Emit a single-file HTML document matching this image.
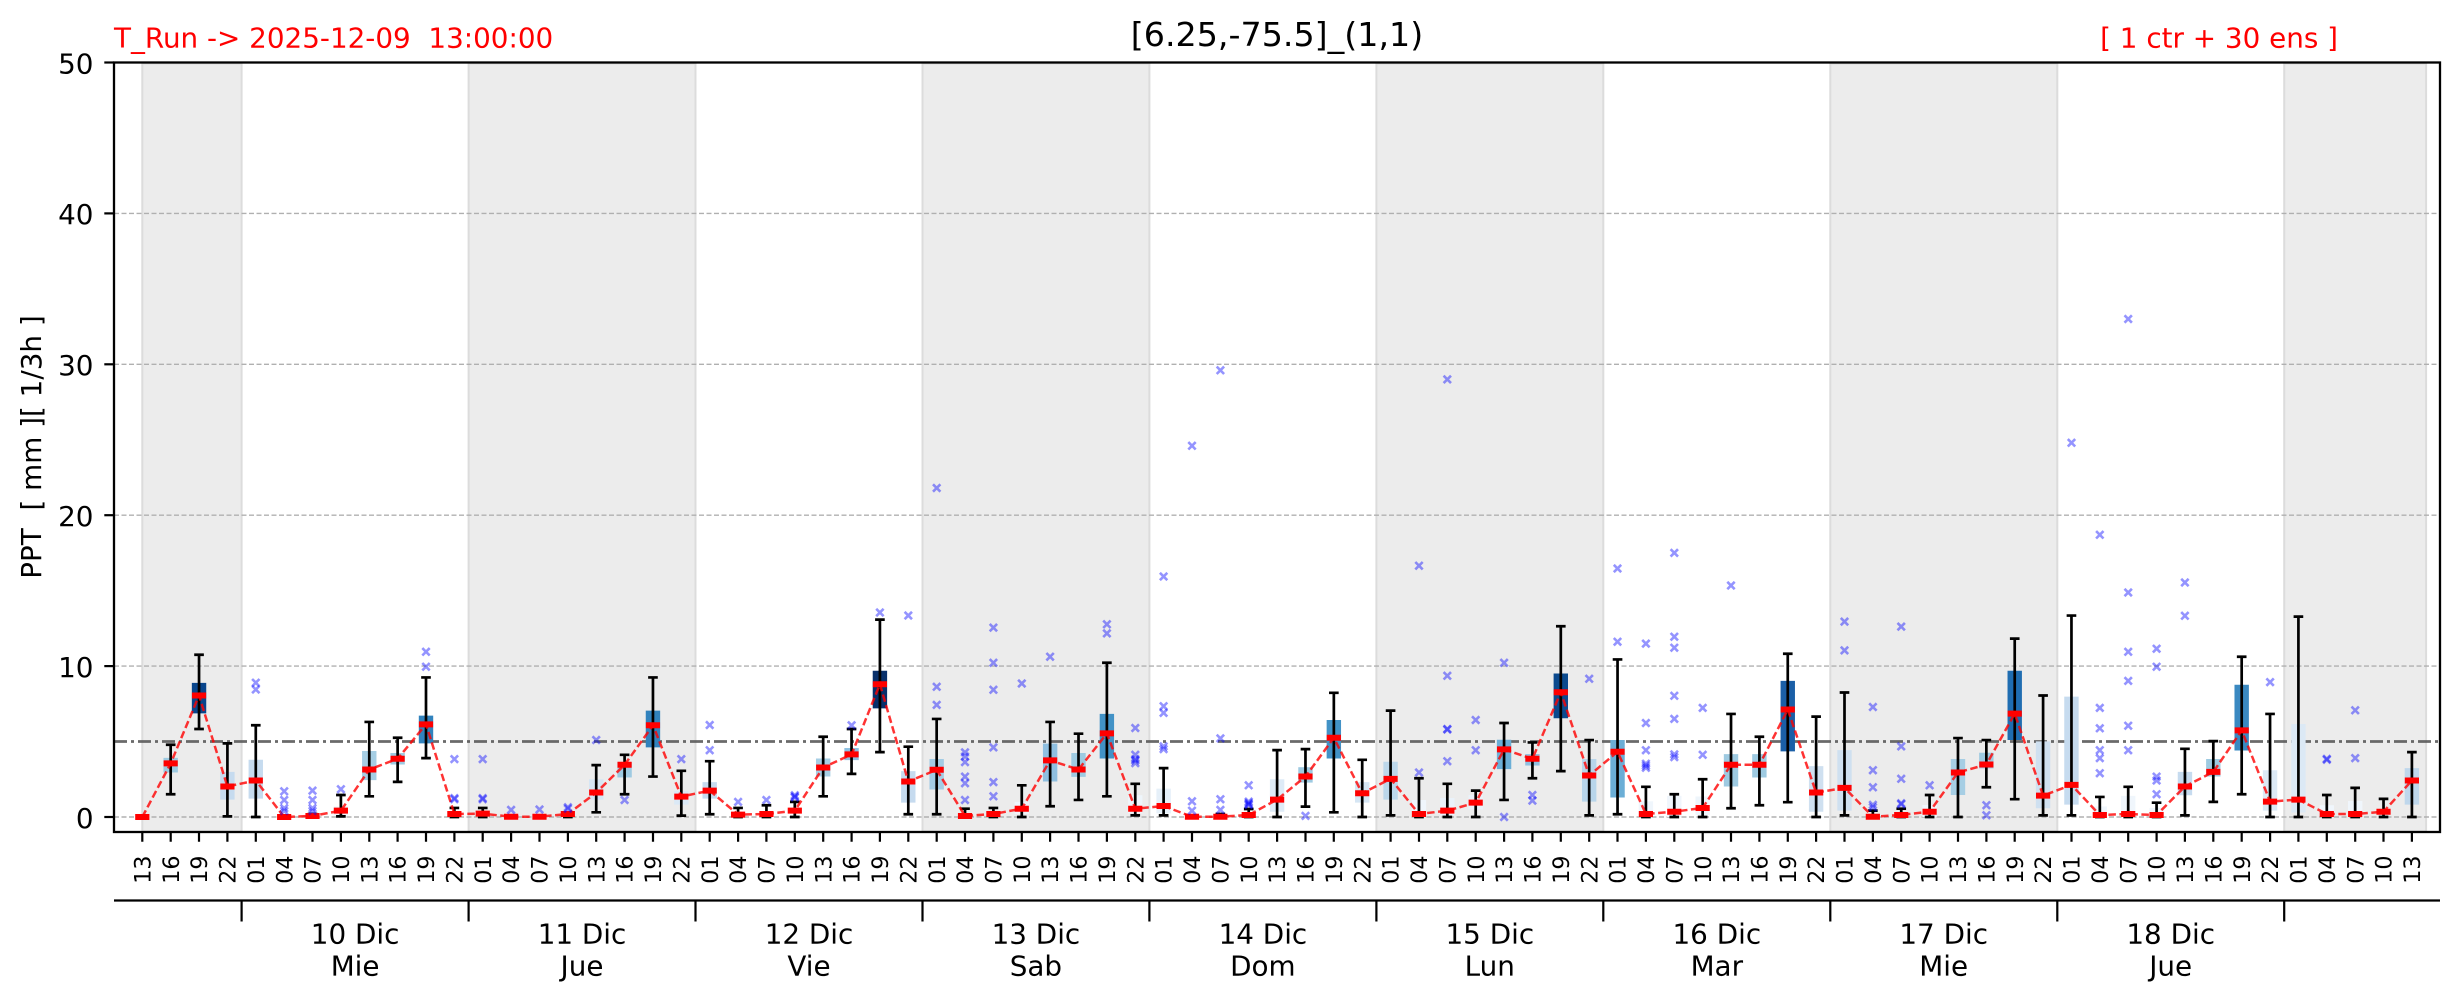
<!DOCTYPE html>
<html>
<head>
<meta charset="utf-8">
<style>
html,body{margin:0;padding:0;background:#fff;}
body{width:2459px;height:1001px;overflow:hidden;}
svg{display:block;}
text{font-family:"DejaVu Sans","Liberation Sans",sans-serif;}
.ns{vector-effect:non-scaling-stroke;}
.bx path{vector-effect:non-scaling-stroke;stroke-width:14.4;fill:none;stroke-linecap:butt;}
.hl text{font-size:22.2px;fill:#000;}
</style>
</head>
<body>
<svg width="2459" height="1001" viewBox="0 0 2459 1001" xmlns="http://www.w3.org/2000/svg">
<defs>
<path id="xm" d="M-3.7-3.7L3.7 3.7M-3.7 3.7L3.7-3.7" stroke="#0000ff" stroke-opacity=".42" stroke-width="2.6" fill="none"/>
</defs>

<!-- day bands -->
<g fill="#ececec" stroke="#dcdcdc" stroke-width="2">
<rect x="142.3" y="63.5" width="99.3" height="768"/>
<rect x="468.6" y="63.5" width="226.9" height="768"/>
<rect x="922.5" y="63.5" width="226.9" height="768"/>
<rect x="1376.4" y="63.5" width="226.9" height="768"/>
<rect x="1830.3" y="63.5" width="227" height="768"/>
<rect x="2284.2" y="63.5" width="141.9" height="768"/>
</g>

<!-- grid -->
<g stroke="#b0b0b0" stroke-width="1.4" stroke-dasharray="5 2.5">
<line x1="114" y1="817" x2="2440" y2="817"/>
<line x1="114" y1="666.1" x2="2440" y2="666.1"/>
<line x1="114" y1="515.2" x2="2440" y2="515.2"/>
<line x1="114" y1="364.3" x2="2440" y2="364.3"/>
<line x1="114" y1="213.4" x2="2440" y2="213.4"/>
</g>

<!-- threshold -->
<line x1="114" y1="741.5" x2="2440" y2="741.5" stroke="#5a5a5a" stroke-width="2.8" stroke-dasharray="13 4 3 4" opacity=".9"/>

<!-- data-coordinate group -->
<g transform="translate(142.3 817) scale(28.37 -15.09)">
<g class="bx">
<path d="M1 2.95V3.92" stroke="#9ecae1"/>
<path d="M2 6.87V8.89" stroke="#08458c"/>
<path d="M3 1.15V2.99" stroke="#c6dbef"/>
<path d="M4 1.22V3.79" stroke="#c6dbef"/>
<path d="M7 0.1V0.7" stroke="#eef5fb"/>
<path d="M8 2.44V4.37" stroke="#a6cee4"/>
<path d="M9 3.48V4.24" stroke="#9ecae1"/>
<path d="M10 4.88V6.72" stroke="#3182bd"/>
<path d="M16 1.15V2.5" stroke="#d6e6f4"/>
<path d="M17 2.62V3.64" stroke="#9ecae1"/>
<path d="M18 4.61V7.05" stroke="#3182bd"/>
<path d="M19 0.82V1.73" stroke="#dbe9f6"/>
<path d="M20 1.22V2.31" stroke="#c6dbef"/>
<path d="M24 2.68V3.88" stroke="#a6cee4"/>
<path d="M25 3.77V4.57" stroke="#8dbfe0"/>
<path d="M26 7.2V9.69" stroke="#08306b"/>
<path d="M27 0.95V3.04" stroke="#c6dbef"/>
<path d="M28 1.82V3.84" stroke="#a3cce4"/>
<path d="M31 0.2V1.0" stroke="#eef5fb"/>
<path d="M32 2.35V4.86" stroke="#8fbfe0"/>
<path d="M33 2.66V4.24" stroke="#9ecae1"/>
<path d="M34 3.88V6.83" stroke="#4292c6"/>
<path d="M35 0.24V1.44" stroke="#eef5fb"/>
<path d="M36 0.24V1.88" stroke="#e6f0f9"/>
<path d="M40 0.35V2.5" stroke="#deebf7"/>
<path d="M41 2.28V3.3" stroke="#9ecae1"/>
<path d="M42 3.88V6.43" stroke="#4292c6"/>
<path d="M43 0.95V2.31" stroke="#d6e6f4"/>
<path d="M44 1.15V3.66" stroke="#bcd7ea"/>
<path d="M45 0V1.13" stroke="#f0f6fc"/>
<path d="M46 0.1V1.26" stroke="#eaf2fa"/>
<path d="M47 0.5V1.46" stroke="#eaf2fa"/>
<path d="M48 3.17V5.12" stroke="#6baed6"/>
<path d="M49 3.41V4.17" stroke="#8fc0e0"/>
<path d="M50 6.54V9.51" stroke="#0b4a8e"/>
<path d="M51 1.02V3.84" stroke="#b8d5ea"/>
<path d="M52 1.29V5.1" stroke="#6baed6"/>
<path d="M53 0V1.04" stroke="#f0f6fc"/>
<path d="M54 0V1.4" stroke="#f0f6fc"/>
<path d="M55 0.13V1.36" stroke="#eef5fb"/>
<path d="M56 2.02V4.17" stroke="#9ecae1"/>
<path d="M57 2.62V4.17" stroke="#9ecae1"/>
<path d="M58 4.35V9.02" stroke="#1b5fa7"/>
<path d="M59 0.35V3.37" stroke="#cfe0f0"/>
<path d="M60 0.42V4.43" stroke="#cfe0f0"/>
<path d="M63 0V0.8" stroke="#f0f6fc"/>
<path d="M64 1.46V3.84" stroke="#a6cee4"/>
<path d="M65 3.22V4.26" stroke="#9ecae1"/>
<path d="M66 5.1V9.69" stroke="#1f6db1"/>
<path d="M67 0.58V5.01" stroke="#cfe0f0"/>
<path d="M68 0.82V7.98" stroke="#c6dbef"/>
<path d="M69 0V0.7" stroke="#f0f6fc"/>
<path d="M70 0V1.4" stroke="#f0f6fc"/>
<path d="M71 0V0.6" stroke="#f0f6fc"/>
<path d="M72 1.44V2.99" stroke="#c6dbef"/>
<path d="M73 2.68V3.84" stroke="#9ecae1"/>
<path d="M74 4.41V8.76" stroke="#3a89c1"/>
<path d="M75 0.42V3.1" stroke="#dce9f5"/>
<path d="M76 0.3V6.16" stroke="#dce9f5"/>
<path d="M77 0V0.78" stroke="#f0f6fc"/>
<path d="M78 0V1.06" stroke="#f0f6fc"/>
<path d="M80 0.82V3.24" stroke="#bfd7ec"/>
</g>

<!-- whiskers -->
<path class="ns" fill="none" stroke="#000" stroke-width="2.7" d="
M1 1.51m-.17 0h.34m-.17 0V4.79m-.17 0h.34
M2 5.83m-.17 0h.34m-.17 0V10.75m-.17 0h.34
M3 0.04m-.17 0h.34m-.17 0V4.88m-.17 0h.34
M4 0m-.17 0h.34m-.17 0V6.08m-.17 0h.34
M6 0m-.17 0h.34m-.17 0V0.2m-.17 0h.34
M7 0.04m-.17 0h.34m-.17 0V1.46m-.17 0h.34
M8 1.37m-.17 0h.34m-.17 0V6.3m-.17 0h.34
M9 2.33m-.17 0h.34m-.17 0V5.25m-.17 0h.34
M10 3.9m-.17 0h.34m-.17 0V9.25m-.17 0h.34
M11 0m-.17 0h.34m-.17 0V0.6m-.17 0h.34
M12 0m-.17 0h.34m-.17 0V0.6m-.17 0h.34
M13 0m-.17 0h.34m-.17 0V0.1m-.17 0h.34
M15 0m-.17 0h.34m-.17 0V0.25m-.17 0h.34
M16 0.31m-.17 0h.34m-.17 0V3.44m-.17 0h.34
M17 1.51m-.17 0h.34m-.17 0V4.12m-.17 0h.34
M18 2.68m-.17 0h.34m-.17 0V9.25m-.17 0h.34
M19 0.09m-.17 0h.34m-.17 0V3.06m-.17 0h.34
M20 0.18m-.17 0h.34m-.17 0V3.7m-.17 0h.34
M21 0m-.17 0h.34m-.17 0V0.6m-.17 0h.34
M22 0m-.17 0h.34m-.17 0V0.78m-.17 0h.34
M23 0m-.17 0h.34m-.17 0V1.0m-.17 0h.34
M24 1.37m-.17 0h.34m-.17 0V5.32m-.17 0h.34
M25 2.86m-.17 0h.34m-.17 0V5.83m-.17 0h.34
M26 4.3m-.17 0h.34m-.17 0V13.08m-.17 0h.34
M27 0.18m-.17 0h.34m-.17 0V4.66m-.17 0h.34
M28 0.18m-.17 0h.34m-.17 0V6.5m-.17 0h.34
M29 0m-.17 0h.34m-.17 0V0.55m-.17 0h.34
M30 0m-.17 0h.34m-.17 0V0.6m-.17 0h.34
M31 0m-.17 0h.34m-.17 0V2.1m-.17 0h.34
M32 0.71m-.17 0h.34m-.17 0V6.3m-.17 0h.34
M33 1.13m-.17 0h.34m-.17 0V5.52m-.17 0h.34
M34 1.37m-.17 0h.34m-.17 0V10.22m-.17 0h.34
M35 0.11m-.17 0h.34m-.17 0V2.2m-.17 0h.34
M36 0.11m-.17 0h.34m-.17 0V3.24m-.17 0h.34
M38 0m-.17 0h.34m-.17 0V0.2m-.17 0h.34
M39 0m-.17 0h.34m-.17 0V0.53m-.17 0h.34
M40 0m-.17 0h.34m-.17 0V4.43m-.17 0h.34
M41 0.69m-.17 0h.34m-.17 0V4.5m-.17 0h.34
M42 0.31m-.17 0h.34m-.17 0V8.23m-.17 0h.34
M43 0m-.17 0h.34m-.17 0V3.79m-.17 0h.34
M44 0.11m-.17 0h.34m-.17 0V7.05m-.17 0h.34
M45 0m-.17 0h.34m-.17 0V2.57m-.17 0h.34
M46 0m-.17 0h.34m-.17 0V2.2m-.17 0h.34
M47 0m-.17 0h.34m-.17 0V1.75m-.17 0h.34
M48 1.13m-.17 0h.34m-.17 0V6.23m-.17 0h.34
M49 2.57m-.17 0h.34m-.17 0V4.94m-.17 0h.34
M50 3.04m-.17 0h.34m-.17 0V12.64m-.17 0h.34
M51 0.11m-.17 0h.34m-.17 0V5.1m-.17 0h.34
M52 0.18m-.17 0h.34m-.17 0V10.44m-.17 0h.34
M53 0m-.17 0h.34m-.17 0V2.0m-.17 0h.34
M54 0m-.17 0h.34m-.17 0V1.51m-.17 0h.34
M55 0m-.17 0h.34m-.17 0V2.5m-.17 0h.34
M56 0.58m-.17 0h.34m-.17 0V6.83m-.17 0h.34
M57 0.78m-.17 0h.34m-.17 0V5.32m-.17 0h.34
M58 0.98m-.17 0h.34m-.17 0V10.82m-.17 0h.34
M59 0m-.17 0h.34m-.17 0V6.65m-.17 0h.34
M60 0.11m-.17 0h.34m-.17 0V8.25m-.17 0h.34
M61 0m-.17 0h.34m-.17 0V0.42m-.17 0h.34
M62 0m-.17 0h.34m-.17 0V0.55m-.17 0h.34
M63 0m-.17 0h.34m-.17 0V1.46m-.17 0h.34
M64 0m-.17 0h.34m-.17 0V5.23m-.17 0h.34
M65 1.97m-.17 0h.34m-.17 0V5.1m-.17 0h.34
M66 1.18m-.17 0h.34m-.17 0V11.82m-.17 0h.34
M67 0.11m-.17 0h.34m-.17 0V8.05m-.17 0h.34
M68 0.11m-.17 0h.34m-.17 0V13.35m-.17 0h.34
M69 0m-.17 0h.34m-.17 0V1.33m-.17 0h.34
M70 0m-.17 0h.34m-.17 0V2.0m-.17 0h.34
M71 0m-.17 0h.34m-.17 0V0.95m-.17 0h.34
M72 0.11m-.17 0h.34m-.17 0V4.52m-.17 0h.34
M73 1.0m-.17 0h.34m-.17 0V5.03m-.17 0h.34
M74 1.51m-.17 0h.34m-.17 0V10.62m-.17 0h.34
M75 0m-.17 0h.34m-.17 0V6.83m-.17 0h.34
M76 0m-.17 0h.34m-.17 0V13.28m-.17 0h.34
M77 0m-.17 0h.34m-.17 0V1.46m-.17 0h.34
M78 0m-.17 0h.34m-.17 0V1.93m-.17 0h.34
M79 0m-.17 0h.34m-.17 0V1.2m-.17 0h.34
M80 0m-.17 0h.34m-.17 0V4.3m-.17 0h.34"/>
</g>

<!-- red dashed line -->
<polyline fill="none" stroke="#ff0000" stroke-opacity=".8" stroke-width="2.5" stroke-dasharray="7.5 3.5" points="142.3,817 170.7,763.4 199,695.5 227.4,786.5 255.8,780.5 284.2,817 312.5,815.9 340.9,810.7 369.3,769.5 397.6,758.8 426,724.3 454.4,814 482.7,813.7 511.1,816.7 539.5,816.7 567.9,814 596.2,792.6 624.6,764.8 653,725.3 681.3,796.6 709.7,790.6 738.1,814.6 766.4,814 794.8,810.7 823.2,767.5 851.6,754.4 879.9,684.2 908.3,781.5 936.7,769.8 965,815.9 993.4,814 1021.8,808.7 1050.1,760.4 1078.5,769.5 1106.9,733.4 1135.3,808.7 1163.6,806 1192,816.7 1220.4,816.7 1248.7,815 1277.1,799.6 1305.5,776.6 1333.8,737.8 1362.2,793.3 1390.6,778.8 1419,814 1447.3,810.7 1475.7,802.7 1504.1,749.4 1532.4,758.8 1560.8,692.2 1589.2,775.5 1617.5,751.8 1645.9,814 1674.3,811.7 1702.7,807.9 1731,764.8 1759.4,764.8 1787.8,709.6 1816.1,792.6 1844.5,787.9 1872.9,816.7 1901.2,815 1929.6,811.7 1958,772.5 1986.4,764.5 2014.7,713.6 2043.1,795.6 2071.5,784.9 2099.8,815 2128.2,814 2156.6,815 2184.9,786.5 2213.3,771.9 2241.7,730.4 2270.1,801.6 2298.4,799.6 2326.8,814 2355.2,814 2383.5,811.7 2411.9,780.5"/>

<!-- medians -->
<g transform="translate(142.3 817) scale(28.37 -15.09)">
<path class="ns" fill="none" stroke="#ff0000" stroke-width="6" d="
M0 0m-.25 0h.5 M1 3.55m-.25 0h.5 M2 8.05m-.25 0h.5 M3 2.02m-.25 0h.5 M4 2.42m-.25 0h.5
M5 0m-.25 0h.5 M6 0.07m-.25 0h.5 M7 0.42m-.25 0h.5 M8 3.15m-.25 0h.5 M9 3.86m-.25 0h.5
M10 6.14m-.25 0h.5 M11 0.2m-.25 0h.5 M12 0.22m-.25 0h.5 M13 0.02m-.25 0h.5 M14 0.02m-.25 0h.5
M15 0.2m-.25 0h.5 M16 1.62m-.25 0h.5 M17 3.46m-.25 0h.5 M18 6.08m-.25 0h.5 M19 1.35m-.25 0h.5
M20 1.75m-.25 0h.5 M21 0.16m-.25 0h.5 M22 0.2m-.25 0h.5 M23 0.42m-.25 0h.5 M24 3.28m-.25 0h.5
M25 4.15m-.25 0h.5 M26 8.8m-.25 0h.5 M27 2.35m-.25 0h.5 M28 3.13m-.25 0h.5 M29 0.07m-.25 0h.5
M30 0.2m-.25 0h.5 M31 0.55m-.25 0h.5 M32 3.75m-.25 0h.5 M33 3.15m-.25 0h.5 M34 5.54m-.25 0h.5
M35 0.55m-.25 0h.5 M36 0.73m-.25 0h.5 M37 0.02m-.25 0h.5 M38 0.02m-.25 0h.5 M39 0.13m-.25 0h.5
M40 1.15m-.25 0h.5 M41 2.68m-.25 0h.5 M42 5.25m-.25 0h.5 M43 1.57m-.25 0h.5 M44 2.53m-.25 0h.5
M45 0.2m-.25 0h.5 M46 0.42m-.25 0h.5 M47 0.95m-.25 0h.5 M48 4.48m-.25 0h.5 M49 3.86m-.25 0h.5
M50 8.27m-.25 0h.5 M51 2.75m-.25 0h.5 M52 4.32m-.25 0h.5 M53 0.2m-.25 0h.5 M54 0.35m-.25 0h.5
M55 0.6m-.25 0h.5 M56 3.46m-.25 0h.5 M57 3.46m-.25 0h.5 M58 7.12m-.25 0h.5 M59 1.62m-.25 0h.5
M60 1.93m-.25 0h.5 M61 0.02m-.25 0h.5 M62 0.13m-.25 0h.5 M63 0.35m-.25 0h.5 M64 2.95m-.25 0h.5
M65 3.48m-.25 0h.5 M66 6.85m-.25 0h.5 M67 1.42m-.25 0h.5 M68 2.13m-.25 0h.5 M69 0.13m-.25 0h.5
M70 0.2m-.25 0h.5 M71 0.13m-.25 0h.5 M72 2.02m-.25 0h.5 M73 2.99m-.25 0h.5 M74 5.74m-.25 0h.5
M75 1.02m-.25 0h.5 M76 1.15m-.25 0h.5 M77 0.2m-.25 0h.5 M78 0.2m-.25 0h.5 M79 0.35m-.25 0h.5
M80 2.42m-.25 0h.5"/>
</g>

<!-- outliers -->
<g>
<use href="#xm" x="255.8" y="682.7"/><use href="#xm" x="255.8" y="689.5"/>
<use href="#xm" x="284.2" y="791.3"/><use href="#xm" x="284.2" y="800"/><use href="#xm" x="284.2" y="808.2"/><use href="#xm" x="284.2" y="811"/>
<use href="#xm" x="312.5" y="790.6"/><use href="#xm" x="312.5" y="800"/><use href="#xm" x="312.5" y="808.2"/><use href="#xm" x="312.5" y="811"/>
<use href="#xm" x="340.9" y="789.2"/>
<use href="#xm" x="426" y="651.8"/><use href="#xm" x="426" y="666.7"/>
<use href="#xm" x="454.4" y="759.1"/><use href="#xm" x="454.4" y="799.2"/><use href="#xm" x="454.4" y="798.1"/>
<use href="#xm" x="482.7" y="759.1"/><use href="#xm" x="482.7" y="799.2"/><use href="#xm" x="482.7" y="798.1"/>
<use href="#xm" x="511.1" y="809.9"/>
<use href="#xm" x="539.5" y="809.5"/>
<use href="#xm" x="567.9" y="807.3"/><use href="#xm" x="567.9" y="808.7"/>
<use href="#xm" x="596.2" y="740"/>
<use href="#xm" x="624.6" y="800"/>
<use href="#xm" x="681.3" y="759.1"/>
<use href="#xm" x="709.7" y="725"/><use href="#xm" x="709.7" y="750.2"/>
<use href="#xm" x="738.1" y="801.9"/>
<use href="#xm" x="766.4" y="800"/>
<use href="#xm" x="794.8" y="795.3"/><use href="#xm" x="794.8" y="797.4"/><use href="#xm" x="794.8" y="796.6"/>
<use href="#xm" x="851.6" y="725.3"/>
<use href="#xm" x="879.9" y="612.5"/>
<use href="#xm" x="908.3" y="615.5"/>
<use href="#xm" x="936.7" y="686.8"/><use href="#xm" x="936.7" y="704.9"/><use href="#xm" x="936.7" y="488"/>
<use href="#xm" x="965" y="752.4"/><use href="#xm" x="965" y="756.5"/><use href="#xm" x="965" y="762.1"/><use href="#xm" x="965" y="776.6"/><use href="#xm" x="965" y="783.2"/><use href="#xm" x="965" y="800"/>
<use href="#xm" x="993.4" y="627.6"/><use href="#xm" x="993.4" y="662.8"/><use href="#xm" x="993.4" y="689.8"/><use href="#xm" x="993.4" y="747.4"/><use href="#xm" x="993.4" y="782.1"/><use href="#xm" x="993.4" y="796.3"/>
<use href="#xm" x="1021.8" y="683.5"/>
<use href="#xm" x="1050.1" y="656.7"/>
<use href="#xm" x="1106.9" y="624.3"/><use href="#xm" x="1106.9" y="633.4"/>
<use href="#xm" x="1135.3" y="728"/><use href="#xm" x="1135.3" y="754.8"/><use href="#xm" x="1135.3" y="759.1"/><use href="#xm" x="1135.3" y="763.1"/><use href="#xm" x="1135.3" y="760.5"/>
<use href="#xm" x="1163.6" y="576.5"/><use href="#xm" x="1163.6" y="706.2"/><use href="#xm" x="1163.6" y="712.9"/><use href="#xm" x="1163.6" y="746.4"/><use href="#xm" x="1163.6" y="749.1"/>
<use href="#xm" x="1192" y="801.3"/><use href="#xm" x="1192" y="810.7"/><use href="#xm" x="1192" y="445.8"/>
<use href="#xm" x="1220.4" y="738.4"/><use href="#xm" x="1220.4" y="799.2"/><use href="#xm" x="1220.4" y="809.9"/><use href="#xm" x="1220.4" y="370.3"/>
<use href="#xm" x="1248.7" y="785.3"/><use href="#xm" x="1248.7" y="801.6"/><use href="#xm" x="1248.7" y="804.9"/><use href="#xm" x="1248.7" y="804.2"/><use href="#xm" x="1248.7" y="803"/>
<use href="#xm" x="1305.5" y="815.9"/>
<use href="#xm" x="1419" y="772.5"/><use href="#xm" x="1419" y="565.7"/>
<use href="#xm" x="1447.3" y="675.8"/><use href="#xm" x="1447.3" y="729"/><use href="#xm" x="1447.3" y="729.5"/><use href="#xm" x="1447.3" y="761.2"/><use href="#xm" x="1447.3" y="379.4"/>
<use href="#xm" x="1475.7" y="720"/><use href="#xm" x="1475.7" y="750.2"/>
<use href="#xm" x="1504.1" y="662.8"/><use href="#xm" x="1504.1" y="817"/>
<use href="#xm" x="1532.4" y="795"/><use href="#xm" x="1532.4" y="800.6"/>
<use href="#xm" x="1589.2" y="678.8"/>
<use href="#xm" x="1617.5" y="568.5"/><use href="#xm" x="1617.5" y="641.7"/>
<use href="#xm" x="1645.9" y="643.6"/><use href="#xm" x="1645.9" y="723"/><use href="#xm" x="1645.9" y="750.2"/><use href="#xm" x="1645.9" y="763.7"/><use href="#xm" x="1645.9" y="767.8"/><use href="#xm" x="1645.9" y="765.7"/>
<use href="#xm" x="1674.3" y="552.9"/><use href="#xm" x="1674.3" y="636.7"/><use href="#xm" x="1674.3" y="647.7"/><use href="#xm" x="1674.3" y="695.8"/><use href="#xm" x="1674.3" y="718.9"/><use href="#xm" x="1674.3" y="754.4"/><use href="#xm" x="1674.3" y="757.1"/>
<use href="#xm" x="1702.7" y="707.9"/><use href="#xm" x="1702.7" y="754.8"/>
<use href="#xm" x="1731" y="585.5"/>
<use href="#xm" x="1844.5" y="621.6"/><use href="#xm" x="1844.5" y="650.4"/>
<use href="#xm" x="1872.9" y="707"/><use href="#xm" x="1872.9" y="770.2"/><use href="#xm" x="1872.9" y="787.3"/><use href="#xm" x="1872.9" y="804.9"/><use href="#xm" x="1872.9" y="807.3"/>
<use href="#xm" x="1901.2" y="626.6"/><use href="#xm" x="1901.2" y="746.4"/><use href="#xm" x="1901.2" y="778.8"/><use href="#xm" x="1901.2" y="803.3"/><use href="#xm" x="1901.2" y="804.2"/>
<use href="#xm" x="1929.6" y="785.3"/>
<use href="#xm" x="1986.4" y="805.2"/><use href="#xm" x="1986.4" y="815.3"/>
<use href="#xm" x="2071.5" y="442.8"/>
<use href="#xm" x="2099.8" y="534.8"/><use href="#xm" x="2099.8" y="707.9"/><use href="#xm" x="2099.8" y="728.3"/><use href="#xm" x="2099.8" y="750.2"/><use href="#xm" x="2099.8" y="758.1"/><use href="#xm" x="2099.8" y="773.2"/>
<use href="#xm" x="2128.2" y="319"/><use href="#xm" x="2128.2" y="592.5"/><use href="#xm" x="2128.2" y="651.8"/><use href="#xm" x="2128.2" y="680.9"/><use href="#xm" x="2128.2" y="725.7"/><use href="#xm" x="2128.2" y="750.2"/>
<use href="#xm" x="2156.6" y="648.7"/><use href="#xm" x="2156.6" y="666.7"/><use href="#xm" x="2156.6" y="776.6"/><use href="#xm" x="2156.6" y="780.5"/><use href="#xm" x="2156.6" y="794.2"/>
<use href="#xm" x="2184.9" y="582.5"/><use href="#xm" x="2184.9" y="615.8"/>
<use href="#xm" x="2270.1" y="682.1"/>
<use href="#xm" x="2326.8" y="759.7"/><use href="#xm" x="2326.8" y="758.9"/>
<use href="#xm" x="2355.2" y="710.3"/><use href="#xm" x="2355.2" y="758.1"/>
</g>

<!-- axes frame -->
<rect x="114" y="62.5" width="2326" height="769.5" fill="none" stroke="#000" stroke-width="2.3"/>

<!-- y ticks -->
<g stroke="#000" stroke-width="2.2">
<line x1="104.3" y1="817" x2="114" y2="817"/>
<line x1="104.3" y1="666.1" x2="114" y2="666.1"/>
<line x1="104.3" y1="515.2" x2="114" y2="515.2"/>
<line x1="104.3" y1="364.3" x2="114" y2="364.3"/>
<line x1="104.3" y1="213.4" x2="114" y2="213.4"/>
<line x1="104.3" y1="62.5" x2="114" y2="62.5"/>
</g>
<g font-size="27.8" text-anchor="end" fill="#000">
<text x="93.5" y="828">0</text>
<text x="93.5" y="677">10</text>
<text x="93.5" y="526">20</text>
<text x="93.5" y="375">30</text>
<text x="93.5" y="224">40</text>
<text x="93.5" y="73.5">50</text>
</g>
<text transform="translate(41 447) rotate(-90)" text-anchor="middle" font-size="27.8" xml:space="preserve">PPT  [ mm ][ 1/3h ]</text>

<!-- x tick marks -->
<path stroke="#000" stroke-width="2.2" fill="none" d="M142.3 832v9.7M170.7 832v9.7M199 832v9.7M227.4 832v9.7M255.8 832v9.7M284.2 832v9.7M312.5 832v9.7M340.9 832v9.7M369.3 832v9.7M397.6 832v9.7M426 832v9.7M454.4 832v9.7M482.7 832v9.7M511.1 832v9.7M539.5 832v9.7M567.9 832v9.7M596.2 832v9.7M624.6 832v9.7M653 832v9.7M681.3 832v9.7M709.7 832v9.7M738.1 832v9.7M766.4 832v9.7M794.8 832v9.7M823.2 832v9.7M851.6 832v9.7M879.9 832v9.7M908.3 832v9.7M936.7 832v9.7M965 832v9.7M993.4 832v9.7M1021.8 832v9.7M1050.1 832v9.7M1078.5 832v9.7M1106.9 832v9.7M1135.3 832v9.7M1163.6 832v9.7M1192 832v9.7M1220.4 832v9.7M1248.7 832v9.7M1277.1 832v9.7M1305.5 832v9.7M1333.8 832v9.7M1362.2 832v9.7M1390.6 832v9.7M1419 832v9.7M1447.3 832v9.7M1475.7 832v9.7M1504.1 832v9.7M1532.4 832v9.7M1560.8 832v9.7M1589.2 832v9.7M1617.5 832v9.7M1645.9 832v9.7M1674.3 832v9.7M1702.7 832v9.7M1731 832v9.7M1759.4 832v9.7M1787.8 832v9.7M1816.1 832v9.7M1844.5 832v9.7M1872.9 832v9.7M1901.2 832v9.7M1929.6 832v9.7M1958 832v9.7M1986.4 832v9.7M2014.7 832v9.7M2043.1 832v9.7M2071.5 832v9.7M2099.8 832v9.7M2128.2 832v9.7M2156.6 832v9.7M2184.9 832v9.7M2213.3 832v9.7M2241.7 832v9.7M2270.1 832v9.7M2298.4 832v9.7M2326.8 832v9.7M2355.2 832v9.7M2383.5 832v9.7M2411.9 832v9.7"/>

<!-- hour labels -->
<g class="hl" text-anchor="end">
<text transform="translate(150.4 855.5) rotate(-90)">13</text>
<text transform="translate(178.8 855.5) rotate(-90)">16</text>
<text transform="translate(207.1 855.5) rotate(-90)">19</text>
<text transform="translate(235.5 855.5) rotate(-90)">22</text>
<text transform="translate(263.9 855.5) rotate(-90)">01</text>
<text transform="translate(292.3 855.5) rotate(-90)">04</text>
<text transform="translate(320.6 855.5) rotate(-90)">07</text>
<text transform="translate(349 855.5) rotate(-90)">10</text>
<text transform="translate(377.4 855.5) rotate(-90)">13</text>
<text transform="translate(405.7 855.5) rotate(-90)">16</text>
<text transform="translate(434.1 855.5) rotate(-90)">19</text>
<text transform="translate(462.5 855.5) rotate(-90)">22</text>
<text transform="translate(490.8 855.5) rotate(-90)">01</text>
<text transform="translate(519.2 855.5) rotate(-90)">04</text>
<text transform="translate(547.6 855.5) rotate(-90)">07</text>
<text transform="translate(576 855.5) rotate(-90)">10</text>
<text transform="translate(604.3 855.5) rotate(-90)">13</text>
<text transform="translate(632.7 855.5) rotate(-90)">16</text>
<text transform="translate(661.1 855.5) rotate(-90)">19</text>
<text transform="translate(689.4 855.5) rotate(-90)">22</text>
<text transform="translate(717.8 855.5) rotate(-90)">01</text>
<text transform="translate(746.2 855.5) rotate(-90)">04</text>
<text transform="translate(774.5 855.5) rotate(-90)">07</text>
<text transform="translate(802.9 855.5) rotate(-90)">10</text>
<text transform="translate(831.3 855.5) rotate(-90)">13</text>
<text transform="translate(859.7 855.5) rotate(-90)">16</text>
<text transform="translate(888 855.5) rotate(-90)">19</text>
<text transform="translate(916.4 855.5) rotate(-90)">22</text>
<text transform="translate(944.8 855.5) rotate(-90)">01</text>
<text transform="translate(973.1 855.5) rotate(-90)">04</text>
<text transform="translate(1001.5 855.5) rotate(-90)">07</text>
<text transform="translate(1029.9 855.5) rotate(-90)">10</text>
<text transform="translate(1058.2 855.5) rotate(-90)">13</text>
<text transform="translate(1086.6 855.5) rotate(-90)">16</text>
<text transform="translate(1115 855.5) rotate(-90)">19</text>
<text transform="translate(1143.4 855.5) rotate(-90)">22</text>
<text transform="translate(1171.7 855.5) rotate(-90)">01</text>
<text transform="translate(1200.1 855.5) rotate(-90)">04</text>
<text transform="translate(1228.5 855.5) rotate(-90)">07</text>
<text transform="translate(1256.8 855.5) rotate(-90)">10</text>
<text transform="translate(1285.2 855.5) rotate(-90)">13</text>
<text transform="translate(1313.6 855.5) rotate(-90)">16</text>
<text transform="translate(1341.9 855.5) rotate(-90)">19</text>
<text transform="translate(1370.3 855.5) rotate(-90)">22</text>
<text transform="translate(1398.7 855.5) rotate(-90)">01</text>
<text transform="translate(1427.1 855.5) rotate(-90)">04</text>
<text transform="translate(1455.4 855.5) rotate(-90)">07</text>
<text transform="translate(1483.8 855.5) rotate(-90)">10</text>
<text transform="translate(1512.2 855.5) rotate(-90)">13</text>
<text transform="translate(1540.5 855.5) rotate(-90)">16</text>
<text transform="translate(1568.9 855.5) rotate(-90)">19</text>
<text transform="translate(1597.3 855.5) rotate(-90)">22</text>
<text transform="translate(1625.6 855.5) rotate(-90)">01</text>
<text transform="translate(1654 855.5) rotate(-90)">04</text>
<text transform="translate(1682.4 855.5) rotate(-90)">07</text>
<text transform="translate(1710.8 855.5) rotate(-90)">10</text>
<text transform="translate(1739.1 855.5) rotate(-90)">13</text>
<text transform="translate(1767.5 855.5) rotate(-90)">16</text>
<text transform="translate(1795.9 855.5) rotate(-90)">19</text>
<text transform="translate(1824.2 855.5) rotate(-90)">22</text>
<text transform="translate(1852.6 855.5) rotate(-90)">01</text>
<text transform="translate(1881 855.5) rotate(-90)">04</text>
<text transform="translate(1909.3 855.5) rotate(-90)">07</text>
<text transform="translate(1937.7 855.5) rotate(-90)">10</text>
<text transform="translate(1966.1 855.5) rotate(-90)">13</text>
<text transform="translate(1994.5 855.5) rotate(-90)">16</text>
<text transform="translate(2022.8 855.5) rotate(-90)">19</text>
<text transform="translate(2051.2 855.5) rotate(-90)">22</text>
<text transform="translate(2079.6 855.5) rotate(-90)">01</text>
<text transform="translate(2107.9 855.5) rotate(-90)">04</text>
<text transform="translate(2136.3 855.5) rotate(-90)">07</text>
<text transform="translate(2164.7 855.5) rotate(-90)">10</text>
<text transform="translate(2193 855.5) rotate(-90)">13</text>
<text transform="translate(2221.4 855.5) rotate(-90)">16</text>
<text transform="translate(2249.8 855.5) rotate(-90)">19</text>
<text transform="translate(2278.2 855.5) rotate(-90)">22</text>
<text transform="translate(2306.5 855.5) rotate(-90)">01</text>
<text transform="translate(2334.9 855.5) rotate(-90)">04</text>
<text transform="translate(2363.3 855.5) rotate(-90)">07</text>
<text transform="translate(2391.6 855.5) rotate(-90)">10</text>
<text transform="translate(2420 855.5) rotate(-90)">13</text>
</g>

<!-- date axis -->
<line x1="114" y1="900.5" x2="2440" y2="900.5" stroke="#000" stroke-width="2.3"/>
<path stroke="#000" stroke-width="2.2" fill="none" d="M241.6 900.5V921.5M468.6 900.5V921.5M695.5 900.5V921.5M922.5 900.5V921.5M1149.4 900.5V921.5M1376.4 900.5V921.5M1603.3 900.5V921.5M1830.3 900.5V921.5M2057.3 900.5V921.5M2284.2 900.5V921.5"/>
<g font-size="27.8" text-anchor="middle" fill="#000">
<text x="355.1" y="943.5">10 Dic</text><text x="355.1" y="975.5">Mie</text>
<text x="582" y="943.5">11 Dic</text><text x="582" y="975.5">Jue</text>
<text x="809" y="943.5">12 Dic</text><text x="809" y="975.5">Vie</text>
<text x="1035.9" y="943.5">13 Dic</text><text x="1035.9" y="975.5">Sab</text>
<text x="1262.9" y="943.5">14 Dic</text><text x="1262.9" y="975.5">Dom</text>
<text x="1489.8" y="943.5">15 Dic</text><text x="1489.8" y="975.5">Lun</text>
<text x="1716.8" y="943.5">16 Dic</text><text x="1716.8" y="975.5">Mar</text>
<text x="1943.7" y="943.5">17 Dic</text><text x="1943.7" y="975.5">Mie</text>
<text x="2170.7" y="943.5">18 Dic</text><text x="2170.7" y="975.5">Jue</text>
</g>

<!-- titles -->
<text x="114" y="47.5" font-size="27.8" fill="#ff0000" xml:space="preserve">T_Run -&gt; 2025-12-09  13:00:00</text>
<text x="1277" y="46" font-size="33.3" text-anchor="middle" fill="#000">[6.25,-75.5]_(1,1)</text>
<text x="2338" y="47.5" font-size="27.8" text-anchor="end" fill="#ff0000">[ 1 ctr + 30 ens ]</text>
</svg>
</body>
</html>
